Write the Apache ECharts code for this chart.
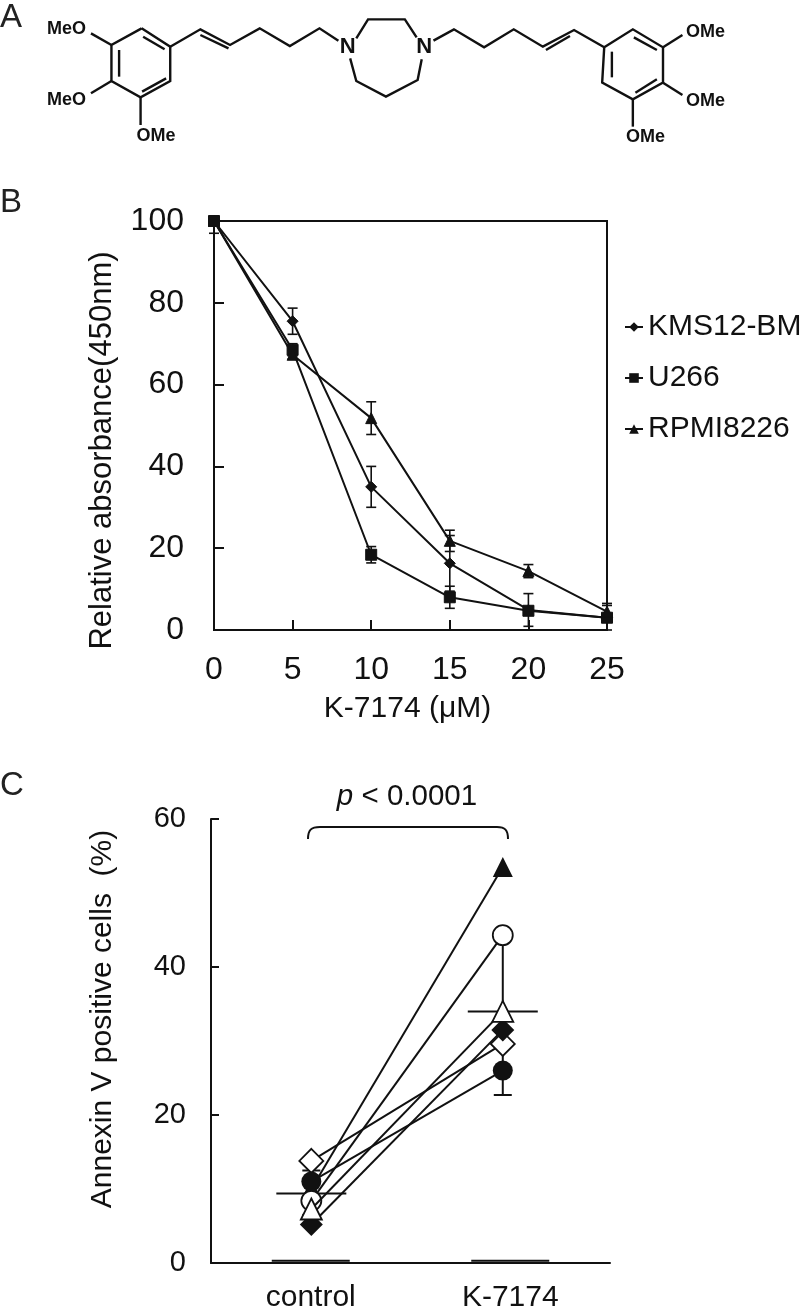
<!DOCTYPE html>
<html><head><meta charset="utf-8">
<style>html,body{margin:0;padding:0;background:#fff}#c{width:800px;height:1311px}</style>
<script src="https://cdn.jsdelivr.net/npm/echarts@6/dist/echarts.min.js"></script>
</head><body><div id="c"></div>
<script>
// Panel B data
const doses = [0, 5, 10, 15, 20, 25];
const kms = [100, 75.5, 35, 16.3, 4.9, 3];
const kmsErr = [0, 3.2, 5, 6.8, 4, 3];
const u266 = [100, 68.5, 18.4, 8, 4.7, 3];
const u266Err = [3, 1.5, 2, 2.7, 1, 1];
const rpmi = [100, 67.3, 51.8, 21.8, 14.4, 4.5];
const rpmiErr = [0, 1, 4, 2.6, 1.6, 2];
// Panel C data
const groups = ['control', 'K-7174'];
const blackTriangle = [10, 53.5];
const blackDiamond = [5.2, 31.5];
const openCircle = [8.4, 44.3];
const openTriangle = [7.3, 34];
const blackCircle = [11, 26];
const openDiamond = [13.8, 29.6];
const meanVals = [9.4, 34];
const meanLow = [6.5, 22.7];
const meanHigh = [12.5, 44.3];

const FONT = '"Liberation Sans", Arial, sans-serif';
const BLK = '#111';

function errSeries(vals, errs) {
  return {
    type: 'custom', xAxisIndex: 0, yAxisIndex: 0, z: 2, silent: true, clip: false,
    data: doses.map((d, i) => [d, vals[i] - errs[i], Math.min(100, vals[i] + errs[i])]),
    renderItem(params, api) {
      const hi = api.coord([api.value(0), api.value(2)]);
      const lo = api.coord([api.value(0), api.value(1)]);
      const st = {stroke: BLK, lineWidth: 1.6, fill: null};
      const cap = 5;
      return {type: 'group', children: [
        {type: 'line', shape: {x1: lo[0], y1: lo[1], x2: hi[0], y2: hi[1]}, style: st},
        {type: 'line', shape: {x1: lo[0]-cap, y1: lo[1], x2: lo[0]+cap, y2: lo[1]}, style: st},
        {type: 'line', shape: {x1: hi[0]-cap, y1: hi[1], x2: hi[0]+cap, y2: hi[1]}, style: st}
      ]};
    }
  };
}
function curve(name, vals, symbol, size) {
  return {
    name, type: 'line', xAxisIndex: 0, yAxisIndex: 0, z: 3, clip: false,
    data: doses.map((d, i) => [d, vals[i]]),
    symbol, symbolSize: size, showSymbol: true,
    lineStyle: {color: BLK, width: 2}, itemStyle: {color: BLK, borderColor: BLK}
  };
}
function pair(vals, symbol, size, open, z) {
  return {
    type: 'line', xAxisIndex: 2, yAxisIndex: 1, z, clip: false, silent: true,
    data: vals.map((v, i) => [i + 1, v]),
    symbol, symbolSize: size,
    lineStyle: {color: BLK, width: 2},
    itemStyle: {color: open ? '#fff' : BLK, borderColor: BLK, borderWidth: open ? 1.8 : 0, opacity: 1}
  };
}

// Structure drawing (panel A): decorative line art, not data
const bonds = [
  [[277,85],[333,140],[333,243],[275,292],[218,243],[218,135],[277,85]],
  [[280,110],[322,148]],[[278,275],[325,235]],[[233,150],[233,230]],
  [[218,135],[178,100]],[[218,243],[178,280]],[[275,292],[275,375]],
  [[333,140],[392,88],[450,135],[508,85],[567,138],[625,85],[662,122]],
  [[392,105],[447,145]],
  [[697,115],[720,58],[792,58],[815,112]],
  [[685,175],[697,243],[755,290],[817,240],[825,178]],
  [[848,122],[888,88],[947,142],[1005,88],[1062,140],[1123,90],[1182,142]],
  [[1068,150],[1115,108]],
  [[1182,142],[1238,88],[1297,142],[1297,248],[1238,298],[1178,248],[1182,142]],
  [[1240,112],[1285,150]],[[1243,278],[1285,238]],[[1197,155],[1197,232]],
  [[1297,142],[1335,105]],[[1297,248],[1335,285]],[[1238,298],[1238,380]]
];
const atoms = [
  ['MeO',130,88,18],['MeO',130,300,18],['OMe',305,408,18],['N',680,142,22],['N',830,142,22],
  ['OMe',1380,95,18],['OMe',1380,303,18],['OMe',1263,410,18]
];
const SX = 800/1565, SY = 1/3;
const graphic = [];
bonds.forEach(b => graphic.push({type: 'polyline', silent: true,
  shape: {points: b.map(p => [p[0]*SX, p[1]*SY])},
  style: {stroke: '#111', lineWidth: 2.4, fill: null}}));
atoms.forEach(a => graphic.push({type: 'text', silent: true, x: a[1]*SX, y: a[2]*SY,
  style: {text: a[0], x: 0, y: 0, align: 'center', verticalAlign: 'middle',
    font: 'bold ' + a[3] + 'px "Liberation Sans",Arial', fill: '#111'}}));
[['A',0,18],['B',0,203],['C',0,786]].forEach(l => graphic.push({type: 'text', silent: true, x: l[1], y: l[2],
  style: {text: l[0], align: 'left', verticalAlign: 'middle', font: '33px ' + FONT, fill: '#222'}}));
// bracket above panel C
graphic.push({type: 'polyline', silent: true,
  shape: {points: [[320,827],[497,827]]}, style: {stroke: '#111', lineWidth: 2, fill: null}});
graphic.push({type: 'bezierCurve', silent: true,
  shape: {x1: 308, y1: 839, cpx1: 308, cpy1: 830, cpx2: 311, cpy2: 827, x2: 320, y2: 827},
  style: {stroke: '#111', lineWidth: 2, fill: null}});
graphic.push({type: 'bezierCurve', silent: true,
  shape: {x1: 508, y1: 839, cpx1: 508, cpy1: 830, cpx2: 505, cpy2: 827, x2: 497, y2: 827},
  style: {stroke: '#111', lineWidth: 2, fill: null}});
graphic.push({type: 'text', silent: true, x: 407, y: 797, style: {
  text: '{i|p}{n| < 0.0001}', align: 'center', verticalAlign: 'middle',
  rich: {i: {font: 'italic 29.5px ' + FONT, fill: '#111'}, n: {font: '29.5px ' + FONT, fill: '#111'}}}});

const axisLbl = {color: '#111', fontFamily: FONT, fontSize: 32};
const option = {
  animation: false, backgroundColor: '#fff',
  textStyle: {fontFamily: FONT},
  graphic,
  legend: {
    data: ['KMS12-BM', 'U266', 'RPMI8226'], orient: 'vertical', left: 619, top: 307,
    itemWidth: 18, itemHeight: 12, itemGap: 21,
    textStyle: {color: '#111', fontFamily: FONT, fontSize: 30},
    selectedMode: false
  },
  grid: [
    {left: 214, top: 221, width: 393, height: 409, show: true, borderColor: BLK, borderWidth: 2, backgroundColor: 'transparent', outerBoundsMode: 'none'},
    {left: 211, top: 819, width: 399, height: 444, outerBoundsMode: 'none'}
  ],
  xAxis: [
    {type: 'value', gridIndex: 0, min: 0, max: 25, interval: 5, splitLine: {show: false},
     axisLine: {lineStyle: {color: BLK, width: 2}}, axisTick: {inside: true, length: 10, lineStyle: {color: BLK, width: 2}},
     axisLabel: {...axisLbl, margin: 24, hideOverlap: false}, name: 'K-7174 (μM)', nameLocation: 'middle', nameGap: 64, nameMoveOverlap: false,
     nameTextStyle: {color: '#111', fontSize: 30, fontFamily: FONT, padding: [0,6,0,0]}},
    {type: 'category', gridIndex: 1, data: groups, axisLine: {lineStyle: {color: BLK, width: 2}},
     axisTick: {alignWithLabel: false, inside: true, length: 8, lineStyle: {color: BLK, width: 2}},
     axisLabel: {...axisLbl, fontSize: 30, margin: 20}},
    {type: 'value', gridIndex: 1, min: 0.476, max: 2.56, show: false}
  ],
  yAxis: [
    {type: 'value', gridIndex: 0, min: 0, max: 100, interval: 20, splitLine: {show: false},
     axisLine: {lineStyle: {color: BLK, width: 2}}, axisTick: {inside: true, length: 10, lineStyle: {color: BLK, width: 2}},
     axisLabel: {...axisLbl, margin: 30}, name: 'Relative absorbance(450nm)', nameLocation: 'middle', nameGap: 96, nameRotate: 90, nameMoveOverlap: false,
     nameTextStyle: {color: '#111', fontSize: 31, fontFamily: FONT, padding: [0,50,0,0]}},
    {type: 'value', gridIndex: 1, min: 0, max: 60, interval: 20, splitLine: {show: false},
     axisLine: {lineStyle: {color: BLK, width: 2}}, axisTick: {inside: true, length: 8, lineStyle: {color: BLK, width: 2}},
     axisLabel: {...axisLbl, fontSize: 29, margin: 25, padding: [6,0,0,0]}, name: 'Annexin V positive cells  (%)', nameLocation: 'middle', nameGap: 93, nameRotate: 90, nameMoveOverlap: false,
     nameTextStyle: {color: '#111', fontSize: 30, fontFamily: FONT, padding: [0,0,0,44]}}
  ],
  series: [
    errSeries(kms, kmsErr), errSeries(u266, u266Err), errSeries(rpmi, rpmiErr),
    curve('KMS12-BM', kms, 'diamond', 11), curve('U266', u266, 'rect', 11), curve('RPMI8226', rpmi, 'triangle', 11),
    // mean +/- SD and baseline marks in panel C
    {type: 'custom', xAxisIndex: 2, yAxisIndex: 1, z: 2, silent: true, clip: false,
     data: meanVals.map((m, i) => [i + 1, m, meanLow[i], meanHigh[i]]),
     renderItem(params, api) {
       const x = api.value(0);
       const m = api.coord([x, api.value(1)]), lo = api.coord([x, api.value(2)]), hi = api.coord([x, api.value(3)]);
       const st = {stroke: BLK, lineWidth: 2, fill: null};
       const line = (a,b,c,d) => ({type: 'line', shape: {x1:a,y1:b,x2:c,y2:d}, style: st});
       return {type: 'group', children: [
         line(m[0]-35, m[1], m[0]+35, m[1]), line(lo[0], lo[1], hi[0], hi[1]),
         line(lo[0]-9, lo[1], lo[0]+9, lo[1]), line(hi[0]-9, hi[1], hi[0]+9, hi[1])
       ]};
     }},
    {type: 'custom', xAxisIndex: 1, yAxisIndex: 1, z: 2, silent: true, clip: false,
     data: groups.map((g, i) => [i, 0.3]),
     renderItem(params, api) {
       const p = api.coord([api.value(0), api.value(1)]);
       return {type: 'line', shape: {x1: p[0]-39, y1: p[1], x2: p[0]+39, y2: p[1]}, style: {stroke: BLK, lineWidth: 2}};
     }},
    pair(openDiamond, 'diamond', 24, true, 3),
    pair(blackTriangle, 'triangle', 20, false, 4),
    pair(blackDiamond, 'diamond', 23, false, 5),
    pair(openCircle, 'circle', 20, true, 6),
    pair(openTriangle, 'triangle', 21, true, 7),
    pair(blackCircle, 'circle', 20, false, 8)
  ]
};
echarts.init(document.getElementById('c'), null, {renderer: 'canvas'}).setOption(option);
</script></body></html>
